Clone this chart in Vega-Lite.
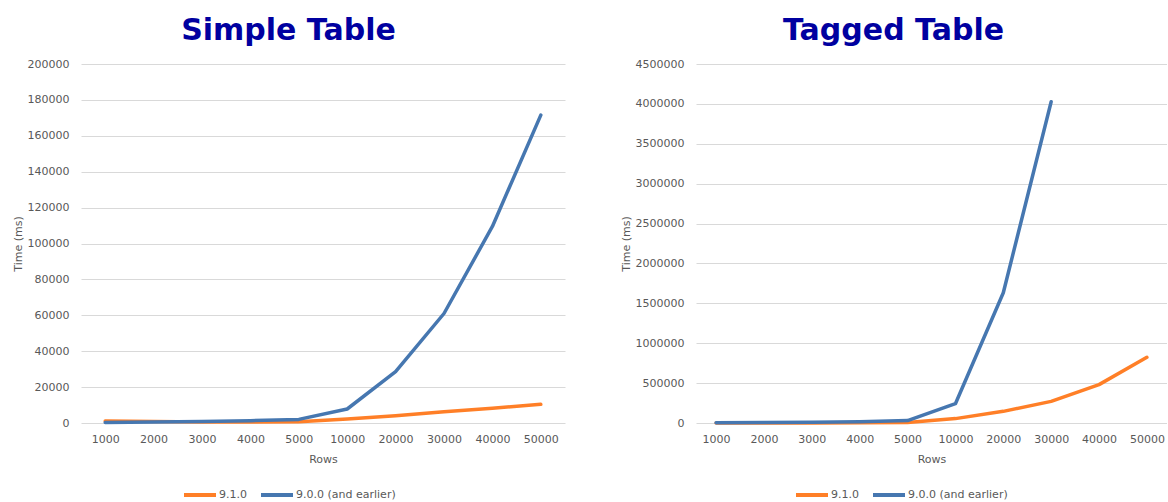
{
  "$schema": "https://vega.github.io/schema/vega-lite/v6.json",
  "padding": {"left": 12, "top": 16, "right": 0, "bottom": 0},
  "background": "white",
  "config": {
    "font": "DejaVu Sans",
    "view": {"stroke": null},
    "axis": {
      "labelFont": "DejaVu Sans",
      "labelFontSize": 11,
      "labelColor": "#595959",
      "titleFont": "DejaVu Sans",
      "titleFontSize": 11,
      "titleFontWeight": "normal",
      "titleColor": "#595959",
      "ticks": false,
      "domain": false,
      "gridColor": "#D9D9D9",
      "gridWidth": 1
    },
    "legend": {
      "labelFont": "DejaVu Sans",
      "labelFontSize": 11,
      "labelColor": "#595959",
      "padding": 0
    },
    "title": {
      "font": "DejaVu Sans",
      "fontSize": 30,
      "fontWeight": "bold",
      "color": "#0000A0",
      "anchor": "middle",
      "frame": "bounds",
      "offset": 12
    }
  },
  "datasets": {
    "times": [
      {"table": "Simple", "rows": 1000, "version": "9.1.0", "time": 1100},
      {"table": "Simple", "rows": 2000, "version": "9.1.0", "time": 800},
      {"table": "Simple", "rows": 3000, "version": "9.1.0", "time": 600},
      {"table": "Simple", "rows": 4000, "version": "9.1.0", "time": 500},
      {"table": "Simple", "rows": 5000, "version": "9.1.0", "time": 700},
      {"table": "Simple", "rows": 10000, "version": "9.1.0", "time": 2200},
      {"table": "Simple", "rows": 20000, "version": "9.1.0", "time": 4100},
      {"table": "Simple", "rows": 30000, "version": "9.1.0", "time": 6300},
      {"table": "Simple", "rows": 40000, "version": "9.1.0", "time": 8200},
      {"table": "Simple", "rows": 50000, "version": "9.1.0", "time": 10400},
      {"table": "Simple", "rows": 1000, "version": "9.0.0 (and earlier)", "time": 300},
      {"table": "Simple", "rows": 2000, "version": "9.0.0 (and earlier)", "time": 500},
      {"table": "Simple", "rows": 3000, "version": "9.0.0 (and earlier)", "time": 800},
      {"table": "Simple", "rows": 4000, "version": "9.0.0 (and earlier)", "time": 1300},
      {"table": "Simple", "rows": 5000, "version": "9.0.0 (and earlier)", "time": 2000},
      {"table": "Simple", "rows": 10000, "version": "9.0.0 (and earlier)", "time": 7800},
      {"table": "Simple", "rows": 20000, "version": "9.0.0 (and earlier)", "time": 28600},
      {"table": "Simple", "rows": 30000, "version": "9.0.0 (and earlier)", "time": 61000},
      {"table": "Simple", "rows": 40000, "version": "9.0.0 (and earlier)", "time": 109500},
      {"table": "Simple", "rows": 50000, "version": "9.0.0 (and earlier)", "time": 171500},
      {"table": "Tagged", "rows": 1000, "version": "9.1.0", "time": 500},
      {"table": "Tagged", "rows": 2000, "version": "9.1.0", "time": 1000},
      {"table": "Tagged", "rows": 3000, "version": "9.1.0", "time": 1500},
      {"table": "Tagged", "rows": 4000, "version": "9.1.0", "time": 2500},
      {"table": "Tagged", "rows": 5000, "version": "9.1.0", "time": 5000},
      {"table": "Tagged", "rows": 10000, "version": "9.1.0", "time": 55000},
      {"table": "Tagged", "rows": 20000, "version": "9.1.0", "time": 146000},
      {"table": "Tagged", "rows": 30000, "version": "9.1.0", "time": 271000},
      {"table": "Tagged", "rows": 40000, "version": "9.1.0", "time": 481000},
      {"table": "Tagged", "rows": 50000, "version": "9.1.0", "time": 824000},
      {"table": "Tagged", "rows": 1000, "version": "9.0.0 (and earlier)", "time": 2000},
      {"table": "Tagged", "rows": 2000, "version": "9.0.0 (and earlier)", "time": 5000},
      {"table": "Tagged", "rows": 3000, "version": "9.0.0 (and earlier)", "time": 8000},
      {"table": "Tagged", "rows": 4000, "version": "9.0.0 (and earlier)", "time": 15000},
      {"table": "Tagged", "rows": 5000, "version": "9.0.0 (and earlier)", "time": 30000},
      {"table": "Tagged", "rows": 10000, "version": "9.0.0 (and earlier)", "time": 242000},
      {"table": "Tagged", "rows": 20000, "version": "9.0.0 (and earlier)", "time": 1633000},
      {"table": "Tagged", "rows": 30000, "version": "9.0.0 (and earlier)", "time": 4027000}
    ]
  },
  "spacing": 55,
  "resolve": {"scale": {"color": "independent", "x": "independent", "y": "independent"}, "legend": {"color": "independent"}},
  "hconcat": [
    {
      "title": "Simple Table",
      "width": 484,
      "height": 359,
      "data": {"name": "times"},
      "transform": [{"filter": "datum.table === 'Simple'"}],
      "mark": {"type": "line", "strokeWidth": 3.5, "strokeCap": "round", "strokeJoin": "round"},
      "encoding": {
        "x": {
          "field": "rows", "type": "ordinal", "title": "Rows",
          "scale": {"type": "point", "padding": 0.5},
          "axis": {"labelAngle": 0, "labelPadding": 10, "titlePadding": 9, "grid": false}
        },
        "y": {
          "field": "time", "type": "quantitative", "title": "Time (ms)",
          "scale": {"domain": [0, 200000], "nice": false},
          "axis": {"values": [0, 20000, 40000, 60000, 80000, 100000, 120000, 140000, 160000, 180000, 200000], "format": "d", "labelPadding": 12, "titlePadding": 4, "grid": true}
        },
        "color": {
          "field": "version", "type": "nominal",
          "scale": {"domain": ["9.1.0", "9.0.0 (and earlier)"], "range": ["#FF7F27", "#4677B0"]},
          "legend": {"title": null, "orient": "none", "direction": "horizontal", "legendX": 101, "legendY": 413, "symbolType": "stroke", "symbolSize": 1024, "symbolStrokeWidth": 4, "labelOffset": 1, "columnPadding": 6}
        }
      }
    },
    {
      "title": "Tagged Table",
      "width": 471,
      "height": 359,
      "data": {"name": "times"},
      "transform": [{"filter": "datum.table === 'Tagged'"}],
      "mark": {"type": "line", "strokeWidth": 3.5, "strokeCap": "round", "strokeJoin": "round"},
      "encoding": {
        "x": {
          "field": "rows", "type": "ordinal", "title": "Rows",
          "scale": {"type": "point", "padding": 0.42},
          "axis": {"labelAngle": 0, "labelPadding": 10, "titlePadding": 9, "grid": false}
        },
        "y": {
          "field": "time", "type": "quantitative", "title": "Time (ms)",
          "scale": {"domain": [0, 4500000], "nice": false},
          "axis": {"values": [0, 500000, 1000000, 1500000, 2000000, 2500000, 3000000, 3500000, 4000000, 4500000], "format": "d", "labelPadding": 12, "titlePadding": 4, "grid": true}
        },
        "color": {
          "field": "version", "type": "nominal",
          "scale": {"domain": ["9.1.0", "9.0.0 (and earlier)"], "range": ["#FF7F27", "#4677B0"]},
          "legend": {"title": null, "orient": "none", "direction": "horizontal", "legendX": 98, "legendY": 413, "symbolType": "stroke", "symbolSize": 1024, "symbolStrokeWidth": 4, "labelOffset": 1, "columnPadding": 6}
        }
      }
    }
  ]
}
